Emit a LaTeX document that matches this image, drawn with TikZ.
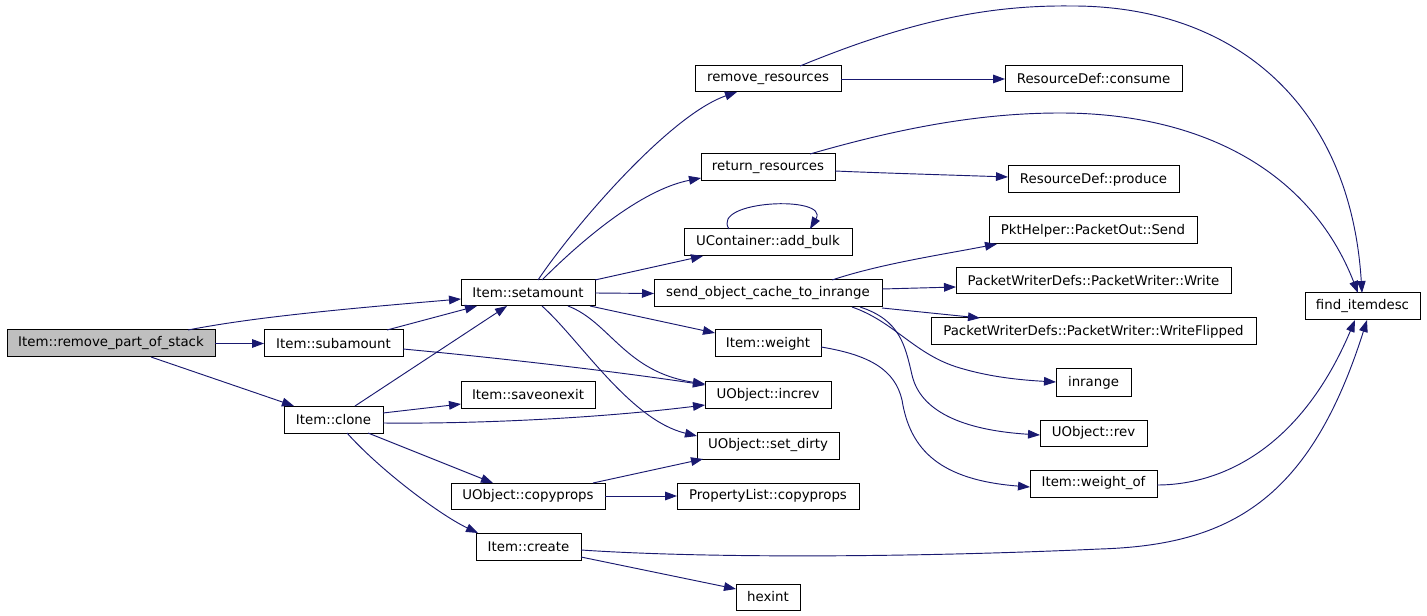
\documentclass[tikz,border=0pt]{standalone}
\usepackage{fontspec}
\setmainfont{DejaVu Sans}
\usetikzlibrary{arrows.meta}
\definecolor{edgec}{HTML}{191970}
\definecolor{rootc}{HTML}{BFBFBF}
\newcommand\mkbox[7][]{\node[box,#1,minimum width={(#5-#3)*0.75pt},minimum height={(#6-#4)*0.75pt}] (#2) at ({(#3+#5)/2},{(#4+#6)/2}) {#7};}
\begin{document}
\begin{tikzpicture}[x=0.75pt,y=-0.75pt,
  box/.style={draw=black,line width=0.75pt,inner sep=0pt,outer sep=0pt,fill=white,font=\fontsize{10}{12}\selectfont},
  call/.style={draw=edgec,line width=0.7pt,-{Triangle[length=9pt,width=6.5pt,fill=edgec]}}]
\path[use as bounding box,fill=white] (0,0) rectangle (1427,616);
% nodes
\mkbox[fill=rootc]{rpos}{7}{330}{215}{357}{Item::remove\_part\_of\_stack}
\mkbox{sub}{264}{330}{403}{357}{Item::subamount}
\mkbox{clone}{284}{406}{383}{433}{Item::clone}
\mkbox{sa}{461}{280}{595}{306}{Item::setamount}
\mkbox{soe}{461}{381}{595}{408}{Item::saveonexit}
\mkbox{ocp}{451}{483}{605}{509}{UObject::copyprops}
\mkbox{cr}{476}{533}{581}{560}{Item::create}
\mkbox{rr}{695}{66}{841}{92}{remove\_resources}
\mkbox{ret}{701}{154}{835}{181}{return\_resources}
\mkbox{ab}{684}{229}{852}{256}{UContainer::add\_bulk}
\mkbox{so}{654}{280}{882}{307}{send\_object\_cache\_to\_inrange}
\mkbox{wt}{715}{330}{821}{357}{Item::weight}
\mkbox{inc}{705}{381}{831}{408}{UObject::increv}
\mkbox{sd}{697}{432}{839}{459}{UObject::set\_dirty}
\mkbox{pl}{677}{483}{859}{509}{PropertyList::copyprops}
\mkbox{hx}{736}{584}{800}{610}{hexint}
\mkbox{con}{1005}{66}{1182}{92}{ResourceDef::consume}
\mkbox{pro}{1008}{166}{1179}{193}{ResourceDef::produce}
\mkbox{snd}{989}{217}{1197}{244}{PktHelper::PacketOut::Send}
\mkbox{wr}{956}{268}{1231}{294}{PacketWriterDefs::PacketWriter::Write}
\mkbox{wf}{931}{318}{1256}{345}{PacketWriterDefs::PacketWriter::WriteFlipped}
\mkbox{inr}{1056}{369}{1131}{396}{inrange}
\mkbox{rev}{1040}{420}{1147}{446}{UObject::rev}
\mkbox{wo}{1030}{470}{1157}{497}{Item::weight\_of}
\mkbox{fi}{1305}{293}{1420}{320}{find\_itemdesc}
% edges
\draw[call] (188,0 |- rpos.north) .. controls (250,318) and (330,310) .. (sa.west |- 0,299);
\draw[call] (rpos.east) -- (sub.west);
\draw[call] (151,0 |- rpos.south) -- (294,0 |- clone.north);
\draw[call] (387,0 |- sub.north) -- (477,0 |- sa.south);
\draw[call] (sub.east |- 0,349) .. controls (500,358) and (620,372) .. (inc.west |- 0,385);
\draw[call] (355,0 |- clone.north) -- (507,0 |- sa.south);
\draw[call] (clone.east |- 0,413) -- (soe.west |- 0,404);
\draw[call] (clone.east |- 0,423) .. controls (480,424) and (600,418) .. (inc.west |- 0,405);
\draw[call] (368,0 |- clone.south) -- (493,0 |- ocp.north);
\draw[call] (347,0 |- clone.south) .. controls (380,470) and (440,515) .. (478,0 |- cr.north);
\draw[call] (538,0 |- sa.north) .. controls (575,225) and (670,115) .. (737,0 |- rr.south);
\draw[call] (542,0 |- sa.north) .. controls (580,242) and (640,190) .. (ret.west |- 0,178);
\draw[call] (sa.north east) -- (703,0 |- ab.south);
\draw[call] (sa.east) -- (so.west);
\draw[call] (590,0 |- sa.south) -- (wt.west |- 0,333);
\draw[call] (568,0 |- sa.south) .. controls (610,322) and (625,372) .. (inc.west |- 0,384);
\draw[call] (542,0 |- sa.south) .. controls (580,340) and (630,420) .. (sd.west |- 0,436);
\draw[call] (729,0 |- ab.north) .. controls (710,200) and (830,195) .. (810,0 |- ab.north);
\draw[call] (rr.east) -- (con.west);
\draw[call] (800,0 |- rr.north) .. controls (900,25) and (980,5) .. (1070,6) .. controls (1230,5) and (1350,100) .. (1362,0 |- fi.north);
\draw[call] (ret.east |- 0,171) .. controls (880,173) and (950,175) .. (pro.west |- 0,177);
\draw[call] (810,0 |- ret.north) .. controls (900,128) and (980,113) .. (1060,113) .. controls (1200,113) and (1310,170) .. (1358,0 |- fi.north);
\draw[call] (832,0 |- so.north) .. controls (880,264) and (940,255) .. (997,0 |- snd.south);
\draw[call] (so.east |- 0,289) -- (wr.west |- 0,287);
\draw[call] (so.east |- 0,308) -- (980,0 |- wf.north);
\draw[call] (852,0 |- so.south) .. controls (895,322) and (915,355) .. (960,368) .. controls (990,377) and (1020,380) .. (inr.west |- 0,382);
\draw[call] (860,0 |- so.south) .. controls (900,320) and (905,345) .. (912,375) .. controls (920,410) and (960,430) .. (rev.west |- 0,435);
\draw[call] (wt.east |- 0,347) .. controls (870,355) and (895,370) .. (902,400) .. controls (910,450) and (940,480) .. (wo.west |- 0,487);
\draw[call] (wo.east |- 0,485) .. controls (1220,485) and (1300,450) .. (1355,0 |- fi.south);
\draw[call] (cr.east |- 0,550) .. controls (700,558) and (900,558) .. (1100,549) .. controls (1230,545) and (1310,500) .. (1367,0 |- fi.south);
\draw[call] (cr.east |- 0,557) -- (hx.west |- 0,589);
\draw[call] (593,0 |- ocp.north) -- (703,0 |- sd.south);
\draw[call] (ocp.east) -- (pl.west);
\end{tikzpicture}
\end{document}
